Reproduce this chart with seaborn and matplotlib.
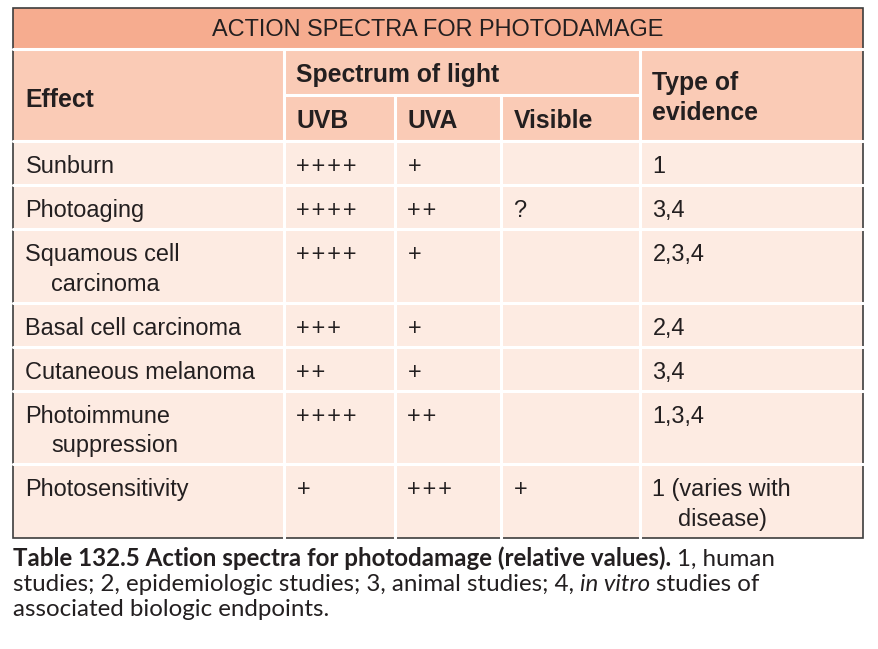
import numpy as np
import pandas as pd
import matplotlib
matplotlib.use("Agg")
import matplotlib.pyplot as plt
import seaborn as sns
from matplotlib.patches import Rectangle

# Table content
title = "ACTION SPECTRA FOR PHOTODAMAGE"
effects = ["Sunburn", "Photoaging", "Squamous cell\ncarcinoma", "Basal cell carcinoma",
           "Cutaneous melanoma", "Photoimmune\nsuppression", "Photosensitivity"]
uvb = ["++++", "++++", "++++", "+++", "++", "++++", "+"]
uva = ["+", "++", "+", "+", "+", "++", "+++"]
visible = ["", "?", "", "", "", "", "+"]
evidence = ["1", "3,4", "2,3,4", "2,4", "3,4", "1,3,4", "1 (varies with\ndisease)"]
spectrum_cols = ["UVB", "UVA", "Visible"]

caption_lines = [
    [("Table 132.5 Action spectra for photodamage (relative values).", "bold"), ("1, human", "normal")],
    [("studies; 2, epidemiologic studies; 3, animal studies; 4,", "normal"), ("in vitro", "italic"),
     ("studies of", "normal")],
    [("associated biologic endpoints.", "normal")],
]

df = pd.DataFrame({"Effect": effects, "UVB": uvb, "UVA": uva,
                   "Visible": visible, "Type of evidence": evidence})

# colours
TITLE_BG = "#F6AC8F"
HEAD_BG = "#FACBB6"
BODY_BG = "#FDEBE2"
INK = "#231F20"

sns.set_theme(style="white")
plt.rcParams["font.family"] = ["Liberation Sans", "DejaVu Sans"]

fig = plt.figure(figsize=(8.79, 6.49), dpi=100)
ax = fig.add_axes([0, 0, 1, 1])
ax.set_xlim(0, 879)
ax.set_ylim(649, 0)
ax.axis("off")
renderer = fig.canvas.get_renderer()

# layout (pixels)
left, right = 13, 863
top, title_bot, head_mid, head_bot = 8, 48.5, 95, 141.3
col_x = [13, 284, 395, 501, 640, 863]
pad, indent, line_step = 12.5, 26, 29.5
reg_size, bold_size = 16.9, 17.8

n_lines = df.apply(lambda r: max(str(v).count("\n") + 1 for v in r), axis=1)
row_h = 14.5 + line_step * n_lines
row_tops = head_bot + np.concatenate([[0], np.cumsum(row_h)[:-1]])
bottom = head_bot + row_h.sum()

# backgrounds
ax.add_patch(Rectangle((left, top), right - left, title_bot - top, color=TITLE_BG, lw=0))
ax.add_patch(Rectangle((left, title_bot), right - left, head_bot - title_bot, color=HEAD_BG, lw=0))
ax.add_patch(Rectangle((left, head_bot), right - left, bottom - head_bot, color=BODY_BG, lw=0))

# white grid lines
wl = dict(color="white", lw=2.2)
for y in [title_bot, head_bot] + list(row_tops[1:]):
    ax.plot([left, right], [y, y], **wl)
ax.plot([col_x[1], col_x[4]], [head_mid, head_mid], **wl)
for i, x in enumerate(col_x[1:5]):
    y0 = title_bot if i in (0, 3) else head_mid
    ax.plot([x, x], [y0, bottom], **wl)

ax.add_patch(Rectangle((left, top), right - left, bottom - top, fill=False,
                       edgecolor="#3d3d3d", lw=1.2))

# header text
ax.text((left + right) / 2, 36.5, title, ha="center", va="baseline", fontsize=reg_size, color=INK)
hb = dict(va="baseline", fontsize=bold_size, fontweight="bold", color=INK)
ax.text(col_x[0] + pad, 106.7, "Effect", **hb)
ax.text(col_x[1] + pad, 82.3, "Spectrum of light", **hb)
for i, name in enumerate(spectrum_cols):
    ax.text(col_x[1 + i] + pad, 128.3, name, **hb)
ax.text(col_x[4] + pad, 90, "Type of", **hb)
ax.text(col_x[4] + pad, 120, "evidence", **hb)

# body text (plus signs get a hair space between them, as in the print)
for r, (_, row) in enumerate(df.iterrows()):
    for c, val in enumerate(row):
        if set(val) == {"+"}:
            val = "\u200a".join(val)
        for k, line in enumerate(str(val).split("\n")):
            ax.text(col_x[c] + pad + (indent if k else 0), row_tops[r] + 32 + k * line_step,
                    line, va="baseline", fontsize=reg_size, color=INK)

# caption, laid out run by run
cap_family = ["Lato", "DejaVu Sans"]


def text_width(s, size, style):
    kw = {"fontweight": "bold"} if style == "bold" else {"fontstyle": style}
    t = ax.text(0, 0, s, fontsize=size, family=cap_family, **kw)
    w = t.get_window_extent(renderer).width
    t.remove()
    return w


def line_width(runs, size):
    space = text_width("x x", size, "normal") - text_width("xx", size, "normal")
    return sum(text_width(s, size, st) for s, st in runs) + space * (len(runs) - 1)


base = 12.0
cap_size = base * 745 / line_width(caption_lines[1], base)
space_w = text_width("x x", cap_size, "normal") - text_width("xx", cap_size, "normal")
for runs, y in zip(caption_lines, [566, 591, 616]):
    x = left
    for s, st in runs:
        kw = {"fontweight": "bold"} if st == "bold" else {"fontstyle": st}
        t = ax.text(x, y, s, va="baseline", fontsize=cap_size, family=cap_family, color=INK, **kw)
        x = t.get_window_extent(renderer).x1 + space_w

fig.savefig("out.png", dpi=100)
